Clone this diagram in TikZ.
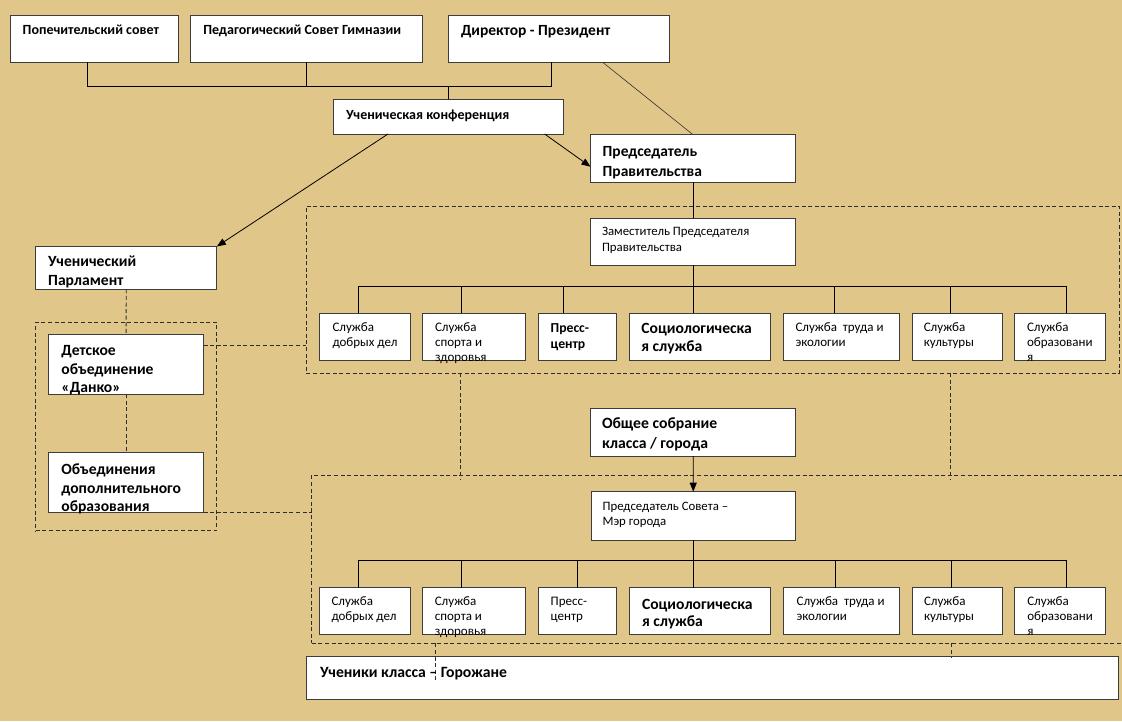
\documentclass[tikz,border=0pt]{standalone}
\usepackage{fontspec}
\setmainfont{Carlito}
\usetikzlibrary{arrows.meta,calc}
\definecolor{parch}{RGB}{225,198,137}
\definecolor{edgec}{RGB}{60,60,60}
\definecolor{dashc}{RGB}{45,45,45}
\newcommand\bx[6][box]{\node[#1,anchor=north west,minimum width={#5pt-#3pt},minimum height={#6pt-#4pt}] (#2) at (#3,#4) {};}
\newcommand\tx[4]{\node[txt,#2] (#1) at (#3) {#4};}
\tikzset{
  box/.style={draw=edgec,fill=white,line width=0.9pt,inner sep=0pt,outer sep=0pt},
  dbox/.style={draw=dashc,line width=0.9pt,dash pattern=on 4pt off 2.6pt,inner sep=0pt,outer sep=0pt},
  dsh/.style={draw=dashc,line width=0.9pt,dash pattern=on 4pt off 2.6pt},
  con/.style={draw=black,line width=0.8pt},
  arr/.style={con,-{Triangle[length=9pt,width=7pt]}},
  txt/.style={anchor=base west,inner sep=0pt,outer sep=0pt,text=black},
  b12/.style={font=\fontsize{14}{16}\selectfont\bfseries},
  b13/.style={font=\fontsize{13.7}{15}\selectfont\bfseries},
  b14/.style={font=\fontsize{15.5}{17}\selectfont\bfseries},
  b145/.style={font=\fontsize{15.6}{17}\selectfont\bfseries},
  b15/.style={font=\fontsize{15.7}{17}\selectfont\bfseries},
  r115/.style={font=\fontsize{12.8}{14}\selectfont},
  r12/.style={font=\fontsize{13}{14}\selectfont},
}
\begin{document}
\begin{tikzpicture}[x=1pt,y=-1pt]
\useasboundingbox (0,0) rectangle (1122,721);
\clip (0,0) rectangle (1122,721);
\fill[parch] (0,0) rectangle (1122,721);
% dashed groups
\bx[dbox]{U}{306.4}{206}{1119.3}{373}
\bx[dbox]{Ld}{35.7}{322.3}{216.8}{530.7}
\bx[dbox]{L}{311.8}{475}{1135}{643.3}
% boxes
\bx{pop}{10}{15}{178.5}{62.3}
\bx{ped}{190.7}{15}{422.5}{62.3}
\bx{dir}{448.7}{15}{669.5}{62.3}
\bx{conf}{333}{99.3}{563.8}{134}
\bx{pred}{590.5}{134}{795.8}{182}
\bx{parl}{35.7}{246.5}{216.8}{289.3}
\bx{danko}{48.6}{334.3}{203.6}{394}
\bx{dop}{48.6}{452.7}{203.6}{512.7}
\bx{zam}{590.5}{218.3}{795.8}{265.3}
\bx{obsh}{590.5}{408.3}{795.8}{456}
\bx{mayor}{591}{491.7}{795.5}{540}
\bx{uch}{306.3}{656.7}{1118}{699.3}
\bx{uS1}{319.5}{313.3}{410}{360.3}
\bx{uS2}{422.5}{313.3}{525.3}{360.3}
\bx{uS3}{538.5}{313.3}{616}{360.3}
\bx{uS4}{629}{313.3}{770.5}{360.3}
\bx{uS5}{783.3}{313.3}{899}{360.3}
\bx{uS6}{912}{313.3}{1002.6}{360.3}
\bx{uS7}{1014.6}{313.3}{1105.5}{360.3}
\bx{lS1}{319.5}{587.7}{410}{634.3}
\bx{lS2}{422.5}{587.7}{525.3}{634.3}
\bx{lS3}{538.5}{587.7}{616}{634.3}
\bx{lS4}{629}{587.7}{770.5}{634.3}
\bx{lS5}{783.3}{587.7}{899}{634.3}
\bx{lS6}{912}{587.7}{1002.6}{634.3}
\bx{lS7}{1014.6}{587.7}{1105.5}{634.3}
% top bus
\coordinate (bus) at (0,86);
\coordinate (p1) at ([xshift=-6.75]pop.south);
\coordinate (d1) at ([xshift=-7.3]dir.south);
\draw[con] (p1) -- (p1 |- bus) -- (d1 |- bus) -- (d1);
\draw[con] (ped.south) -- (ped.south |- bus);
\draw[con] (conf.north) -- (conf.north |- bus);
\draw[draw=black!80,line width=0.6pt] ([xshift=43.6]dir.south) -- ([xshift=-1]pred.north);
\draw[arr] ([xshift=96.2]conf.south) -- ([yshift=-8.7]pred.west);
\draw[arr] ([xshift=-60.4]conf.south) -- (parl.north east);
\draw[con] (pred.south) -- (zam.north);
\draw[arr] (obsh.south) -- (mayor.north);
% upper services bus
\coordinate (ub1) at ([xshift=-6.55,yshift=26.6]uS1.north);
\coordinate (ub2) at ([xshift=-12.5,yshift=26.6]uS2.north);
\coordinate (ub3) at ([xshift=-13.65,yshift=26.6]uS3.north);
\coordinate (ub4) at ([xshift=-6.45,yshift=26.6]uS4.north);
\coordinate (ub5) at ([xshift=-7.15,yshift=26.6]uS5.north);
\coordinate (ub6) at ([xshift=-6.6,yshift=26.6]uS6.north);
\coordinate (ub7) at ([xshift=6.45,yshift=26.6]uS7.north);
\draw[con] (ub1) -- (ub7);
\draw[con] (zam.south) -- (zam.south |- ub1);
\foreach \n in {1,...,7} {\draw[con] (ub\n) -- (ub\n |- uS\n.north);}
% lower services bus
\coordinate (lb1) at ([xshift=-6,yshift=27.7]lS1.north);
\coordinate (lb2) at ([xshift=-12.9,yshift=27.7]lS2.north);
\coordinate (lb3) at ([xshift=-0.25,yshift=27.7]lS3.north);
\coordinate (lb4) at ([xshift=-6.75,yshift=27.7]lS4.north);
\coordinate (lb5) at ([xshift=-6.15,yshift=27.7]lS5.north);
\coordinate (lb6) at ([xshift=-6.3,yshift=27.7]lS6.north);
\coordinate (lb7) at ([xshift=6.55,yshift=27.7]lS7.north);
\draw[con] (lb1) -- (lb7);
\draw[con] (mayor.south) -- (mayor.south |- lb1);
\foreach \n in {1,...,7} {\draw[con] (lb\n) -- (lb\n |- lS\n.north);}
% dashed links
\draw[dsh] (parl.south) -- (danko.north);
\draw[dsh] (danko.south) -- (dop.north);
\coordinate (dk) at ([yshift=18.45]danko.east);
\draw[dsh] (dk) -- (dk -| U.west);
\draw[dsh] (dop.south east) -- (dop.south east -| L.west);
\coordinate (v1) at (460.7,480);
\coordinate (v2) at (950.7,480);
\draw[dsh] (v1 |- U.south) -- (v1);
\draw[dsh] (v2 |- U.south) -- (v2);
\coordinate (v3) at (435.3,682.7);
\coordinate (v4) at (951,656.7);
\draw[dsh] (v3 |- L.south) -- (v3);
\draw[dsh] (v4 |- L.south) -- (v4);
% texts
\tx{tpop}{b12}{22.7,34.3}{Попечительский совет}
\tx{tped}{b12}{203.3,34.3}{Педагогический Совет Гимназии}
\tx{tdir}{b14}{461,35.7}{Директор - Президент}
\tx{tconf}{b12}{346,119}{Ученическая конференция}
\tx{tpred1}{b14}{602.7,156.7}{Председатель}
\tx{tpred2}{b14}{602.7,176}{Правительства}
\tx{tparl1}{b145}{48.2,266.7}{Ученический}
\tx{tparl2}{b145}{48.2,285.7}{Парламент}
\tx{tdk1}{b145}{61.4,355.7}{Детское}
\tx{tdk2}{b145}{61.4,374}{объединение}
\tx{tdk3}{b145}{61.4,392.7}{«Данко»}
\tx{tdo1}{b145}{61.4,474}{Объединения}
\tx{tdo2}{b145}{61.4,493.3}{дополнительного}
\tx{tdo3}{b145}{61.4,511.7}{образования}
\tx{tzam1}{r115}{602,235.7}{Заместитель Председателя}
\tx{tzam2}{r115}{602,251}{Правительства}
% upper services text
\tx{tu1a}{r12}{332.5,331.7}{Служба}
\tx{tu1b}{r12}{332.5,346.7}{добрых дел}
\tx{tu2a}{r12}{435,331.7}{Служба}
\tx{tu2b}{r12}{435,346.7}{спорта и}
\tx{tu2c}{r12}{435,361.7}{здоровья}
\tx{tu3a}{b13}{550.7,332.3}{Пресс-}
\tx{tu3b}{b13}{550.7,348.3}{центр}
\tx{tu4a}{b145}{641.4,333.3}{Социологическа}
\tx{tu4b}{b145}{641.4,351.7}{я служба}
\tx{tu5a}{r12}{795.5,331.7}{Служба\ \ труда и}
\tx{tu5b}{r12}{795.5,346.7}{экологии}
\tx{tu6a}{r12}{923.8,331.7}{Служба}
\tx{tu6b}{r12}{923.8,346.7}{культуры}
\tx{tu7a}{r12}{1027,331.7}{Служба}
\tx{tu7b}{r12}{1027,346.7}{образовани}
\tx{tu7c}{r12}{1027,361.7}{я}
\tx{tob1}{b15}{602,428.3}{Общее собрание}
\tx{tob2}{b15}{602,448.3}{класса / города}
\tx{tmy1}{r115}{602.6,510}{Председатель Совета –}
\tx{tmy2}{r115}{602.6,525}{Мэр города}
% lower services text
\tx{tl1a}{r12}{331.5,605.7}{Служба}
\tx{tl1b}{r12}{331.5,620.7}{добрых дел}
\tx{tl2a}{r12}{434.8,605.7}{Служба}
\tx{tl2b}{r12}{434.8,620.7}{спорта и}
\tx{tl2c}{r12}{434.8,635.7}{здоровья}
\tx{tl3a}{r12}{550.7,605.7}{Пресс-}
\tx{tl3b}{r12}{550.7,620.7}{центр}
\tx{tl4a}{b145}{642,609}{Социологическа}
\tx{tl4b}{b145}{642,626.7}{я служба}
\tx{tl5a}{r12}{796.6,605.7}{Служба\ \ труда и}
\tx{tl5b}{r12}{796.6,620.7}{экологии}
\tx{tl6a}{r12}{924,605.7}{Служба}
\tx{tl6b}{r12}{924,620.7}{культуры}
\tx{tl7a}{r12}{1027.3,605.7}{Служба}
\tx{tl7b}{r12}{1027.3,620.7}{образовани}
\tx{tl7c}{r12}{1027.3,635.7}{я}
\tx{tuch}{b15}{320,677.3}{Ученики класса – Горожане}
\end{tikzpicture}
\end{document}
